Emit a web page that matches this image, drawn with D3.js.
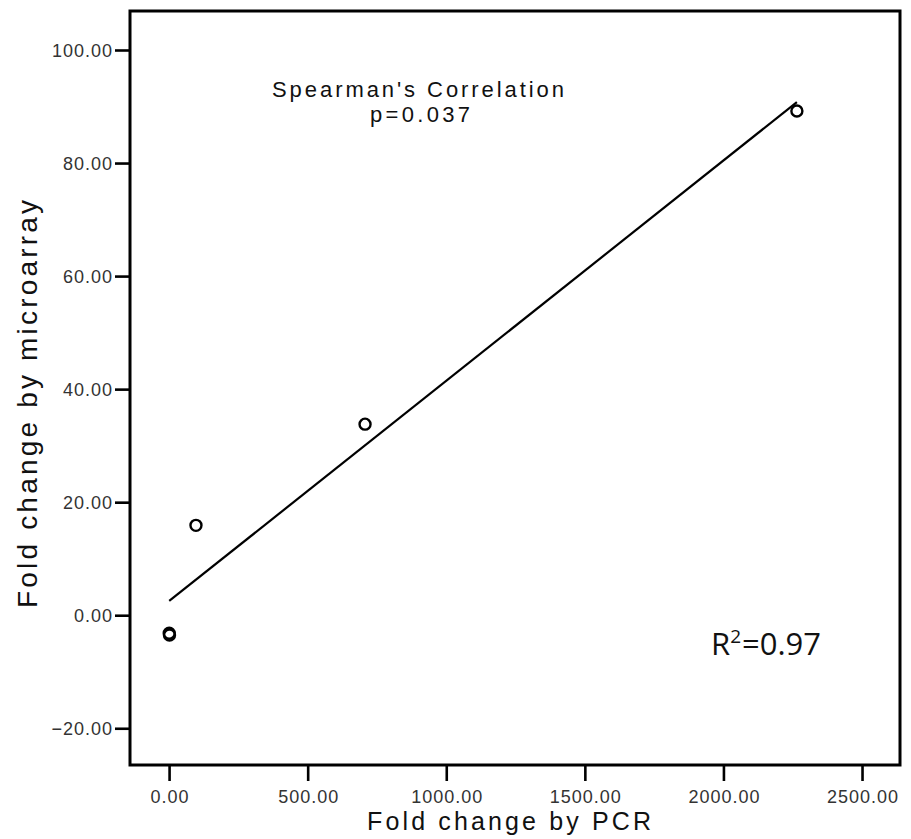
<!DOCTYPE html>
<html>
<head>
<meta charset="utf-8">
<script src="https://cdn.jsdelivr.net/npm/d3@7"></script>
<style>
  html, body { margin: 0; padding: 0; background: #fff; }
  svg { display: block; }
</style>
</head>
<body>
<svg id="chart" width="911" height="839"></svg>
<script>
// ---- data ----
const pcrFold = [0.5, 1.5, 97, 707, 2265];
const microarrayFold = [-3.2, -3.5, 15.9, 33.8, 89.2];
const xTicks = [0, 500, 1000, 1500, 2000, 2500];
const yTicks = [-20, 0, 20, 40, 60, 80, 100];
const xDomain = [-141, 2637];
const yDomain = [-26.5, 106.9];
const xTitle = "Fold change by PCR";
const yTitle = "Fold change by microarray";
const annotation = ["Spearman's Correlation", "p=0.037"];

const svg = d3.select("#chart");
const L = 130, R = 900, T = 11, B = 765;

const x = d3.scaleLinear().domain(xDomain).range([L, R]);
const y = d3.scaleLinear().domain(yDomain).range([B, T]);

const tickFont = "'Liberation Sans', Arial, sans-serif";

// axes
const xAxis = d3.axisBottom(x).tickValues(xTicks).tickFormat(d3.format(".2f")).tickSize(16).tickPadding(6);
const yAxis = d3.axisLeft(y).tickValues(yTicks).tickFormat(d3.format(".2f")).tickSize(15).tickPadding(3);

const gx = svg.append("g").attr("transform", `translate(0,${B})`).call(xAxis);
const gy = svg.append("g").attr("transform", `translate(${L},0)`).call(yAxis);
[gx, gy].forEach(g => {
  g.select(".domain").remove();
  g.selectAll(".tick line").attr("stroke", "#000").attr("stroke-width", 2.6);
  g.selectAll(".tick text")
    .attr("fill", "#333")
    .style("font-family", tickFont)
    .style("font-size", "18px")
    .style("letter-spacing", "1px");
});
gx.selectAll(".tick text").attr("y", 38).attr("dy", 0).attr("dx", "0.5px");
gy.selectAll(".tick text").attr("dy", "0.36em").attr("dx", "1px");

// frame
svg.append("rect")
  .attr("x", L).attr("y", T).attr("width", R - L).attr("height", B - T)
  .attr("fill", "none").attr("stroke", "#000").attr("stroke-width", 3);

// regression line (least squares from data)
const mx = d3.mean(pcrFold), my = d3.mean(microarrayFold);
let sxy = 0, sxx = 0;
pcrFold.forEach((v, i) => { sxy += (v - mx) * (microarrayFold[i] - my); sxx += (v - mx) * (v - mx); });
const slope = sxy / sxx, intercept = my - slope * mx;
const [x0, x1] = d3.extent(pcrFold);
svg.append("line")
  .attr("x1", x(x0)).attr("y1", y(intercept + slope * x0))
  .attr("x2", x(x1)).attr("y2", y(intercept + slope * x1))
  .attr("stroke", "#000").attr("stroke-width", 2.2);

// points
svg.append("g").selectAll("circle")
  .data(pcrFold.map((v, i) => [v, microarrayFold[i]]))
  .join("circle")
  .attr("cx", d => x(d[0])).attr("cy", d => y(d[1]))
  .attr("r", 5.5)
  .attr("fill", "none").attr("stroke", "#000").attr("stroke-width", 2.4);

// annotation
const annStyle = t => t
  .attr("fill", "#111")
  .style("font-family", tickFont)
  .style("font-size", "22px")
  .attr("lengthAdjust", "spacing");
annStyle(svg.append("text")).attr("x", 272).attr("y", 97).attr("textLength", 292).text(annotation[0]);
annStyle(svg.append("text")).attr("x", 370).attr("y", 122).attr("textLength", 100).text(annotation[1]);

// R^2
const r2 = svg.append("text")
  .attr("x", 711).attr("y", 655)
  .attr("fill", "#111")
  .style("font-family", "'Open Sans', sans-serif")
  .style("font-size", "31px");
r2.append("tspan").text("R");
r2.append("tspan").attr("dy", -12).style("font-size", "19px").text("2");
r2.append("tspan").attr("dy", 12).attr("dx", 1).text("=0.97");

// axis titles
svg.append("text")
  .attr("x", 367).attr("y", 830)
  .attr("fill", "#111")
  .style("font-family", tickFont)
  .style("font-size", "25px")
  .attr("lengthAdjust", "spacing")
  .attr("textLength", 284)
  .text(xTitle);

svg.append("text")
  .attr("transform", `translate(37,608) rotate(-90)`)
  .attr("fill", "#111")
  .style("font-family", tickFont)
  .style("font-size", "28px")
  .attr("lengthAdjust", "spacing")
  .attr("textLength", 408)
  .text(yTitle);
</script>
</body>
</html>
